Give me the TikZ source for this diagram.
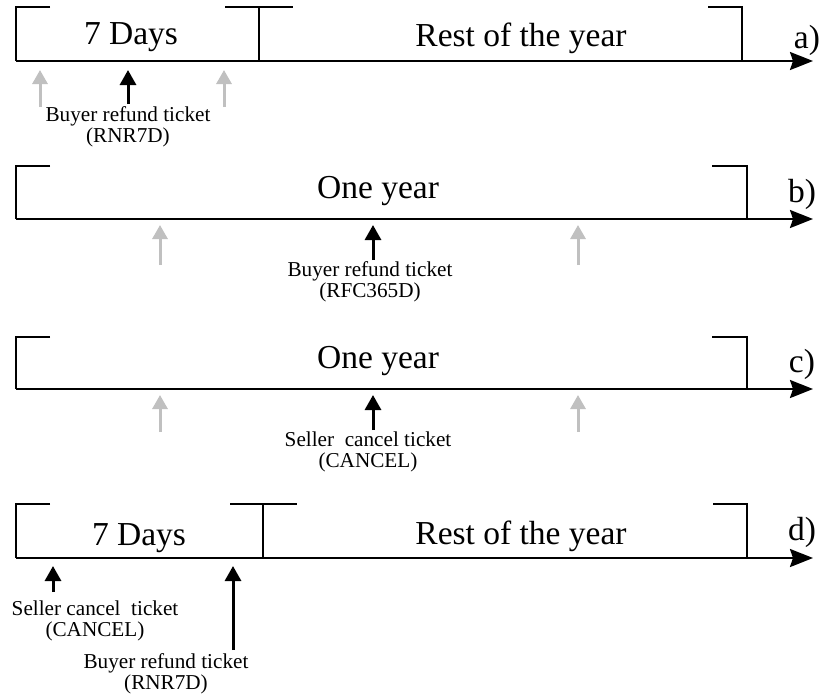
\documentclass[tikz,border=0pt]{standalone}
\usepackage{fontspec}
\setmainfont{Liberation Serif}
\usetikzlibrary{arrows.meta}

\definecolor{eventgrey}{RGB}{192,192,192}

\begin{document}
\begin{tikzpicture}[x=1pt,y=-1pt,
  bracket/.style={line width=1.1pt},
  axisline/.style={line width=2.3pt, -{Stealth[length=23pt,width=18pt,inset=3pt]}},
  eventarrow/.style={line width=3pt, -{Triangle[length=15pt,width=16pt]}},
  ghostarrow/.style={eventarrow, draw=eventgrey, -{Triangle[length=14pt,width=15pt]}},
  period/.style={font=\fontsize{33.5}{36}\selectfont, anchor=base, inner sep=0pt},
  tag/.style={font=\fontsize{33.5}{36}\selectfont, anchor=base, inner sep=0pt},
  % anchor=base of a two-line note sits on the baseline of its last line
  note/.style={font=\fontsize{21.2}{20.5}\selectfont, align=center, anchor=base, inner sep=0pt},
]
\useasboundingbox (0,0) rectangle (822,697);

% ---------- a) refund within the first week ----------
\coordinate (a-start) at (16,61);
\coordinate (a-end) at (813,61);
\draw[axisline] (a-start) -- (a-end);
\draw[bracket] (50,7) -- (16,7) -- (a-start);
\draw[bracket] (225,7) -- (293,7) (259,7) -- (259,61);
\draw[bracket] (708,7) -- (742,7) -- (742,61);
\node[period] (a-week) at (131,44) {7 Days};
\node[period] (a-rest) at (521,46) {Rest of the year};
\node[tag] (a-tag) at (807,48) {a)};
\coordinate (a-g1-tail) at (40,107); \coordinate (a-g1-tip) at (40,70);
\coordinate (a-g2-tail) at (224,107); \coordinate (a-g2-tip) at (224,70);
\coordinate (a-ev-tail) at (128,104); \coordinate (a-ev-tip) at (128,70);
\draw[ghostarrow] (a-g1-tail) -- (a-g1-tip);
\draw[ghostarrow] (a-g2-tail) -- (a-g2-tip);
\draw[eventarrow] (a-ev-tail) -- (a-ev-tip);
\node[note] (a-note) at (128,142) {Buyer refund ticket\\(RNR7D)};

% ---------- b) refund during the year ----------
\coordinate (b-start) at (16,219);
\coordinate (b-end) at (813,219);
\draw[axisline] (b-start) -- (b-end);
\draw[bracket] (50,166) -- (16,166) -- (b-start);
\draw[bracket] (712,166) -- (747,166) -- (747,219);
\node[period] (b-year) at (378,198) {One year};
\node[tag] (b-tag) at (802,202) {b)};
\coordinate (b-g1-tail) at (160,265); \coordinate (b-g1-tip) at (160,225);
\coordinate (b-g2-tail) at (578,265); \coordinate (b-g2-tip) at (578,225);
\coordinate (b-ev-tail) at (373,260); \coordinate (b-ev-tip) at (373,225);
\draw[ghostarrow] (b-g1-tail) -- (b-g1-tip);
\draw[ghostarrow] (b-g2-tail) -- (b-g2-tip);
\draw[eventarrow] (b-ev-tail) -- (b-ev-tip);
\node[note] (b-note) at (370,297) {Buyer refund ticket\\(RFC365D)};

% ---------- c) cancellation by the seller ----------
\coordinate (c-start) at (16,389);
\coordinate (c-end) at (813,389);
\draw[axisline] (c-start) -- (c-end);
\draw[bracket] (50,337) -- (16,337) -- (c-start);
\draw[bracket] (712,337) -- (747,337) -- (747,389);
\node[period] (c-year) at (378,368) {One year};
\node[tag] (c-tag) at (802,372) {c)};
\coordinate (c-g1-tail) at (160,432); \coordinate (c-g1-tip) at (160,395);
\coordinate (c-g2-tail) at (578,432); \coordinate (c-g2-tip) at (578,395);
\coordinate (c-ev-tail) at (373,430); \coordinate (c-ev-tip) at (373,395);
\draw[ghostarrow] (c-g1-tail) -- (c-g1-tip);
\draw[ghostarrow] (c-g2-tail) -- (c-g2-tip);
\draw[eventarrow] (c-ev-tail) -- (c-ev-tip);
\node[note] (c-note) at (368,467) {Seller~ cancel ticket\\(CANCEL)};

% ---------- d) cancellation, then refund within the week ----------
\coordinate (d-start) at (16,558);
\coordinate (d-end) at (813,558);
\draw[axisline] (d-start) -- (d-end);
\draw[bracket] (50,504) -- (16,504) -- (d-start);
\draw[bracket] (230,504) -- (297,504) (263,504) -- (263,558);
\draw[bracket] (713,504) -- (747,504) -- (747,558);
\node[period] (d-week) at (139,545) {7 Days};
\node[period] (d-rest) at (521,544) {Rest of the year};
\node[tag] (d-tag) at (802,540) {d)};
\coordinate (d-ev1-tail) at (53,592); \coordinate (d-ev1-tip) at (53,566);
\coordinate (d-ev2-tail) at (233,650); \coordinate (d-ev2-tip) at (233,566);
\draw[eventarrow] (d-ev1-tail) -- (d-ev1-tip);
\draw[eventarrow] (d-ev2-tail) -- (d-ev2-tip);
\node[note] (d-note1) at (95,636) {Seller cancel~ ticket\\(CANCEL)};
\node[note] (d-note2) at (166,689) {Buyer refund ticket\\(RNR7D)};
\end{tikzpicture}
\end{document}
